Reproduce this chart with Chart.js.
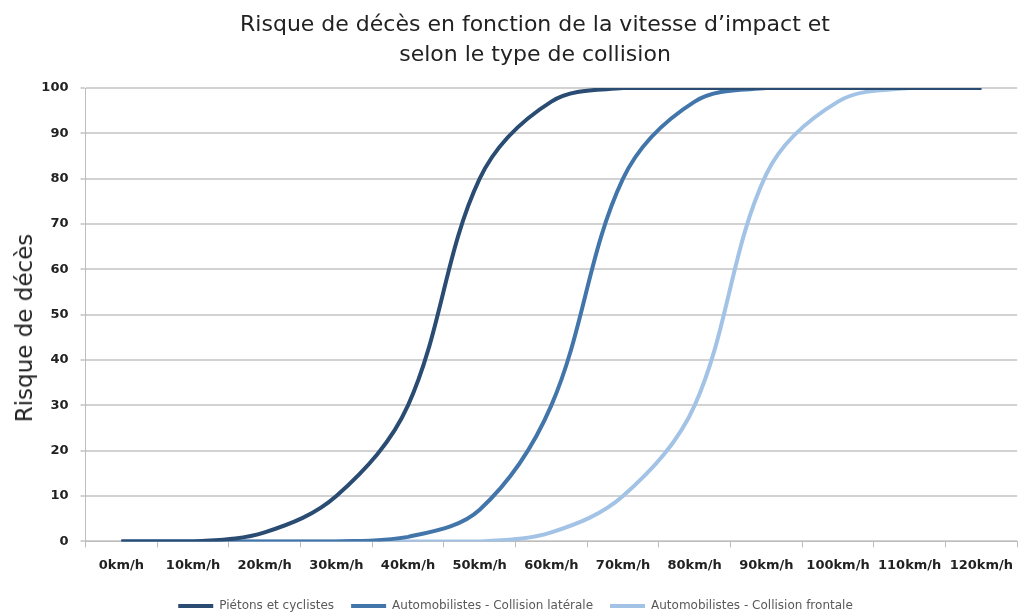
<!DOCTYPE html>
<html lang="fr">
<head>
<meta charset="utf-8">
<script src="https://cdn.jsdelivr.net/npm/chart.js@4.4.1/dist/chart.umd.min.js"></script>
<style>
  html, body { margin: 0; padding: 0; background: #fff; overflow: hidden; }
  #wrap { position: relative; width: 1023px; height: 613px; overflow: hidden; }
  #title {
    position: absolute; left: 185px; width: 700px; top: 9px;
    text-align: center; font-family: "DejaVu Sans", sans-serif;
    font-size: 22px; line-height: 30px; color: #222;
  }
  #ytitle {
    position: absolute; left: 24px; top: 328px; width: 0; height: 0;
  }
  #ytitle span {
    position: absolute; white-space: nowrap;
    font-family: "DejaVu Sans", sans-serif; font-size: 23px; color: #222;
    transform: translate(-50%, -50%) rotate(-90deg);
  }
  canvas { position: absolute; left: 0; top: 0; }
</style>
</head>
<body>
<div id="wrap">
  <canvas id="myChart" width="1023" height="622"></canvas>
  <div id="title">Risque de décès en fonction de la vitesse d’impact et<br>selon le type de collision</div>
  <div id="ytitle"><span>Risque de décès</span></div>
</div>
<script>
'use strict';

// vitesses d'impact (axe x)
let speedLabels = ['0km/h', '10km/h', '20km/h', '30km/h', '40km/h', '50km/h', '60km/h',
  '70km/h', '80km/h', '90km/h', '100km/h', '110km/h', '120km/h'];

// risque de deces en %
let pietons = [0, 0, 2, 10, 30, 80, 97, 100, 100, 100, 100, 100, 100];
let lateral = [0, 0, 0, 0, 1, 7, 30, 80, 97, 100, 100, 100, 100];
let frontal = [0, 0, 0, 0, 0, 0, 2, 10, 30, 81, 97, 100, 100];

let seriesNames = ['Piétons et cyclistes', 'Automobilistes - Collision latérale', 'Automobilistes - Collision frontale'];
let seriesColors = ['#2a4c72', '#4275aa', '#a3c3e6'];

let yTicks = [0, 10, 20, 30, 40, 50, 60, 70, 80, 90, 100];

function makeDataset(i, values) {
    return {
        label: seriesNames[i],
        data: values,
        borderColor: seriesColors[i],
        backgroundColor: seriesColors[i],
        borderWidth: 4,
        pointRadius: 0,
        tension: 0.35,
        fill: false
    };
}

let ctx = document.getElementById('myChart').getContext('2d');
let chart = new Chart(ctx, {
    type: 'line',
    data: {
        labels: speedLabels,
        datasets: [
            makeDataset(0, pietons),
            makeDataset(1, lateral),
            makeDataset(2, frontal)
        ]
    },
    options: {
        responsive: false,
        animation: false,
        layout: { padding: { top: 88, left: 8, right: 0, bottom: 0 } },
        plugins: {
            tooltip: { enabled: false },
            title: { display: false },
            legend: {
                position: 'bottom',
                labels: {
                    boxWidth: 35,
                    boxHeight: 4,
                    padding: 17,
                    color: '#595959',
                    font: { family: 'DejaVu Sans', size: 12 },
                    generateLabels: function (c) {
                        return c.data.datasets.map(function (ds, i) {
                            return {
                                text: ds.label,
                                fillStyle: ds.borderColor,
                                strokeStyle: ds.borderColor,
                                lineWidth: 0,
                                hidden: false,
                                datasetIndex: i,
                                fontColor: '#595959'
                            };
                        });
                    }
                }
            }
        },
        scales: {
            x: {
                offset: true,
                grid: {
                    offset: true,
                    drawOnChartArea: false,
                    drawTicks: true,
                    tickLength: 6,
                    color: '#bdbdbd'
                },
                border: { color: '#bdbdbd', width: 1 },
                ticks: {
                    padding: 10,
                    maxRotation: 0,
                    autoSkip: false,
                    color: '#222',
                    font: { family: 'DejaVu Sans', size: 13, weight: 'bold' }
                }
            },
            y: {
                min: 0,
                max: 100,
                afterBuildTicks: function (axis) {
                    axis.ticks = yTicks.map(function (v) { return { value: v }; });
                },
                afterFit: function (axis) {
                    axis.width = 77.5;
                },
                grid: {
                    color: '#d2d2d2',
                    lineWidth: 2,
                    tickLength: 5
                },
                border: { color: '#bdbdbd', width: 1 },
                ticks: {
                    padding: 12,
                    color: '#222',
                    font: { family: 'DejaVu Sans', size: 13, weight: 'bold' }
                }
            }
        }
    }
});
</script>
</body>
</html>
